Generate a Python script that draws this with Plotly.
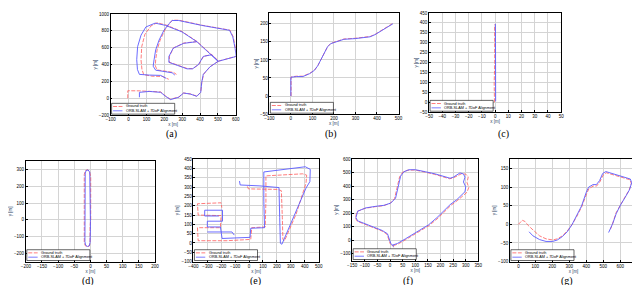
import plotly.graph_objects as go

# ---------------- data (metres) ----------------
# (a)
a_gt_x = [-4, -4, 60, 116, 180, 207, 235, 281, 308, 345, 382, 404, 410, 420, 457, 503, 448, 384, 310, 252, 229, 228, 274, 329, 360, 393, 420, 466, 503, 558, 607, 598, 585, 567, 411, 283, 246, 230, 203, 177, 160, 152, 150, 160, 205, 252, 268, None, 384, 300, 210, 160, 127, 92, 74, 70, 75, 85, 130, 190, 225]
a_gt_y = [0, 89, 88, 85, 75, 27, -12, 15, 62, 52, 25, 72, 190, 285, 375, 440, 545, 672, 655, 598, 500, 428, 394, 352, 352, 402, 498, 518, 440, 468, 500, 595, 730, 808, 866, 925, 926, 888, 808, 690, 575, 458, 385, 336, 323, 306, 283, None, 672, 790, 868, 895, 860, 760, 612, 457, 345, 280, 262, 258, 225]
a_orb_x = [61, 61, 116, 180, 207, 235, 281, 308, 345, 382, 404, 409, 418, 455, 501, 446, 382, 308, 250, 226, 226, 272, 327, 358, 391, 418, 464, 501, 556, 602, 596, 583, 565, 409, 281, 244, 226, 198, 171, 152, 143, 138, 152, 198, 244, 259, None, 382, 299, 207, 149, 97, 70, 51, 46, 50, 61, 116, 180, 211]
a_orb_y = [12, 70, 81, 70, 23, -16, 12, 62, 50, 23, 70, 186, 283, 372, 438, 543, 671, 651, 593, 496, 426, 391, 349, 349, 399, 496, 516, 438, 465, 496, 593, 729, 806, 864, 922, 922, 884, 806, 690, 574, 457, 380, 333, 318, 302, 275, None, 671, 787, 864, 891, 845, 748, 612, 457, 341, 283, 275, 271, 236]

# (b)
b_gt_x = [1, 1, 26, 56, 88, 110, 126, 141, 156, 171, 186, 209, 247, 300, 346, 369, 392, 422, 445, 473]
b_gt_y = [0, 53, 55, 55, 63, 72, 85, 103, 121, 137, 146, 151, 158, 160, 162, 165, 171, 182, 192, 201]
b_orb_x = [0, 0, 26, 56, 87, 109, 125, 140, 155, 170, 185, 208, 246, 299, 345, 368, 391, 421, 444, 474]
b_orb_y = [0, 52, 54, 54, 62, 71, 84, 102, 120, 136, 145, 150, 157, 159, 161, 164, 170, 181, 191, 200]

# (c)
c_gt_x = [-0.5, -0.7, -0.3, -0.6, -0.4]
c_gt_y = [0, 100, 200, 300, 392]
c_orb_x = [0.4, 0.2, 0.5, 0.3, 0.2]
c_orb_y = [5, 100, 200, 300, 395]

# (d)
d_gt_x = [1, 2, 1, -3, -9, -16, -19, -19, -18, -19, -16, -10, -3, -1, -1, 1]
d_gt_y = [0, 120, 260, 290, 300, 293, 270, 120, -20, -135, -155, -162, -157, -135, -40, 0]
d_orb_x = [0, 0, 0, -2, -7, -13, -16, -17, -17, -17, -15, -9, -3, -1, 0, 0]
d_orb_y = [-10, 100, 250, 285, 298, 295, 280, 150, 0, -130, -152, -160, -155, -135, -60, -10]

# (e)
e_gt_x = [-12, -5, 208, 232, 239, 243, 255, 338, 409, 414, 385, 243, 121, 121, 116, 19, 12, -158, -366, -371, -206, -201, -366, -371, -201, -196]
e_gt_y = [304, 291, 288, 281, 138, 19, 12, 155, 321, 365, 372, 365, 361, 225, 86, 82, 19, 12, 12, 82, 82, 147, 150, 211, 216, 190]
e_orb_x = [-69, -64, 78, 215, 220, 225, 236, 314, 409, 437, 440, 404, 243, 106, 106, 111, 12, 7, -194, -206, -300, -300, -191, -191, -319, -319, -217, None, -300, -123, -106]
e_orb_y = [333, 312, 307, 298, 138, -2, -7, 129, 295, 330, 396, 410, 396, 382, 225, 82, 79, 30, 24, 86, 86, 117, 117, 176, 176, 145, 145, None, 59, 59, 42]

# (f)
f_gt_x = [12, 32, 65, 97, 130, 156, 190, 216, 242, 268, 290, 305, 312, 305, 310, 300, 284, 266, 250, 236, 210, 176, 137, 98, 70, 50, 38, 31, 25, 18, 0, -27, -59, -99, -131, -137, -130, -98, -65, -32, -12, -6, 1, 14]
f_gt_y = [-40, -28, 8, 44, 80, 111, 164, 212, 260, 296, 330, 356, 392, 428, 470, 490, 494, 478, 462, 456, 471, 489, 506, 521, 519, 504, 471, 416, 357, 309, 273, 256, 249, 237, 213, 166, 141, 117, 93, 69, 45, 9, -27, -50]
f_orb_x = [9, 29, 62, 94, 127, 153, 186, 212, 238, 264, 284, 297, 300, 291, 297, 291, 277, 264, 251, 238, 212, 179, 140, 101, 75, 55, 42, 35, 29, 22, 3, -24, -56, -96, -128, -135, -128, -96, -63, -30, -10, -4, 3, 16]
f_orb_y = [-36, -24, 12, 48, 84, 115, 168, 216, 264, 300, 336, 360, 396, 432, 468, 492, 499, 484, 468, 460, 475, 492, 508, 523, 523, 508, 475, 420, 360, 312, 276, 259, 252, 240, 216, 168, 144, 120, 96, 72, 48, 12, -24, -48]

# (g)
g_gt_x = [0, 10, 23, 38, 58, 86, 125, 163, 202, 230, 259, 288, 317, 345, 374, 403, 416, 441, 461, 480, 499, 518, 566, 614, 658, 666, 653, 628, 601, 576, 557, 543]
g_gt_y = [0, 6, 11, 8, -3, -15, -31, -39, -42, -39, -31, -18, 0, 22, 48, 83, 96, 103, 103, 114, 132, 139, 133, 127, 120, 110, 92, 73, 53, 31, 4, -13]
g_orb_x = [63, 86, 125, 163, 202, 230, 259, 288, 316, 344, 372, 400, 414, 440, 460, 479, 497, 516, 566, 614, 660, 668, 655, 630, 602, 577, 556, 532]
g_orb_y = [-20, -31, -41, -46, -46, -42, -33, -20, -1, 22, 49, 86, 100, 107, 107, 118, 137, 142, 135, 129, 122, 112, 93, 73, 52, 29, 2, -22]

legend_labels = ["Ground truth", "ORB-SLAM + 7DoF Alignment"]
panel_tags = ["(a)", "(b)", "(c)", "(d)", "(e)", "(f)", "(g)"]

# ---------------- layout / style ----------------
W, H = 640, 285
RED = "rgb(255,90,90)"
BLUE = "rgb(90,90,255)"
FONT = "Liberation Sans, Arial, sans-serif"

series = [
    (a_gt_x, a_gt_y, a_orb_x, a_orb_y),
    (b_gt_x, b_gt_y, b_orb_x, b_orb_y),
    (c_gt_x, c_gt_y, c_orb_x, c_orb_y),
    (d_gt_x, d_gt_y, d_orb_x, d_orb_y),
    (e_gt_x, e_gt_y, e_orb_x, e_orb_y),
    (f_gt_x, f_gt_y, f_orb_x, f_orb_y),
    (g_gt_x, g_gt_y, g_orb_x, g_orb_y),
]
# pixel boxes (left, right, top, bottom), ranges, tick steps, tag positions
boxes = [(99, 226, 4, 107), (260, 391, 3, 106), (422, 556, 3, 104),
         (13, 144, 154, 256), (183, 310, 152, 256), (344, 472, 152, 255), (504, 633, 152, 256)]
xranges = [[-100, 600], [-100, 500], [-50, 50], [-200, 200], [-400, 500], [-150, 350], [-50, 700]]
yranges = [[-200, 1000], [-50, 230], [-50, 450], [-250, 350], [-100, 450], [-150, 600], [-100, 175]]
xdt = [100, 100, 10, 50, 100, 50, 100]
ydt = [200, 50, 50, 100, 50, 100, 50]
tagpos = [(161, 126), (323, 126), (497, 126), (76, 276), (246, 276), (401, 276), (562, 276)]

fig = go.Figure()
shapes, annos = [], []
layout = {}
for i, (gx, gy, ox, oy) in enumerate(series, start=1):
    xs = "x" if i == 1 else f"x{i}"
    ys = "y" if i == 1 else f"y{i}"
    fig.add_trace(go.Scatter(x=gx, y=gy, mode="lines", xaxis=xs, yaxis=ys,
                             line=dict(color=RED, width=0.8, dash="4px,1.5px"),
                             name=legend_labels[0], showlegend=False))
    fig.add_trace(go.Scatter(x=ox, y=oy, mode="lines", xaxis=xs, yaxis=ys,
                             line=dict(color=BLUE, width=0.9),
                             name=legend_labels[1], showlegend=False))
    L, R, T, B = boxes[i - 1]
    common = dict(showgrid=True, gridcolor="#d4d4d4", gridwidth=0.5,
                  showline=True, mirror=True, linecolor="black", linewidth=0.6,
                  ticks="inside", ticklen=2, tickwidth=0.5, tickcolor="black",
                  tickangle=0, zeroline=False,
                  tickfont=dict(size=4.5, family=FONT, color="black"))
    layout["xaxis" if i == 1 else f"xaxis{i}"] = dict(
        domain=[L / W, R / W], range=xranges[i - 1], dtick=xdt[i - 1], anchor=ys,
        title=dict(text="x [m]", font=dict(size=4.5, family=FONT), standoff=1), **common)
    layout["yaxis" if i == 1 else f"yaxis{i}"] = dict(
        domain=[1 - B / H, 1 - T / H], range=yranges[i - 1], dtick=ydt[i - 1], anchor=xs,
        title=dict(text="y [m]", font=dict(size=4.5, family=FONT), standoff=1), **common)

    # manual legend box
    shapes.append(dict(type="rect", xref="paper", yref="paper",
                       x0=(L + 1) / W, x1=(L + 65) / W, y0=1 - (B - 1) / H, y1=1 - (B - 12) / H,
                       line=dict(color="black", width=0.6), fillcolor="white", layer="above"))
    for row, (lab, col, dash) in enumerate([(legend_labels[0], RED, "4px,1.5px"), (legend_labels[1], BLUE, "solid")]):
        yy = B - 8.8 + row * 4.4
        shapes.append(dict(type="line", xref="paper", yref="paper",
                           x0=(L + 2.5) / W, x1=(L + 12) / W, y0=1 - yy / H, y1=1 - yy / H,
                           line=dict(color=col, width=0.8, dash=dash), layer="above"))
        annos.append(dict(text=lab, xref="paper", yref="paper", x=(L + 13.5) / W, y=1 - yy / H,
                          xanchor="left", yanchor="middle", showarrow=False,
                          font=dict(size=3.8, family=FONT, color="black")))
    tx, ty = tagpos[i - 1]
    annos.append(dict(text=panel_tags[i - 1], xref="paper", yref="paper", x=tx / W, y=1 - ty / H,
                      xanchor="center", yanchor="middle", showarrow=False,
                      font=dict(size=10, family="Liberation Serif, Times New Roman, serif", color="black")))

fig.update_layout(width=W, height=H, autosize=False, margin=dict(l=0, r=0, t=0, b=0),
                  paper_bgcolor="white", plot_bgcolor="white", showlegend=False,
                  shapes=shapes, annotations=annos, **layout)
fig.write_html("out.html")
